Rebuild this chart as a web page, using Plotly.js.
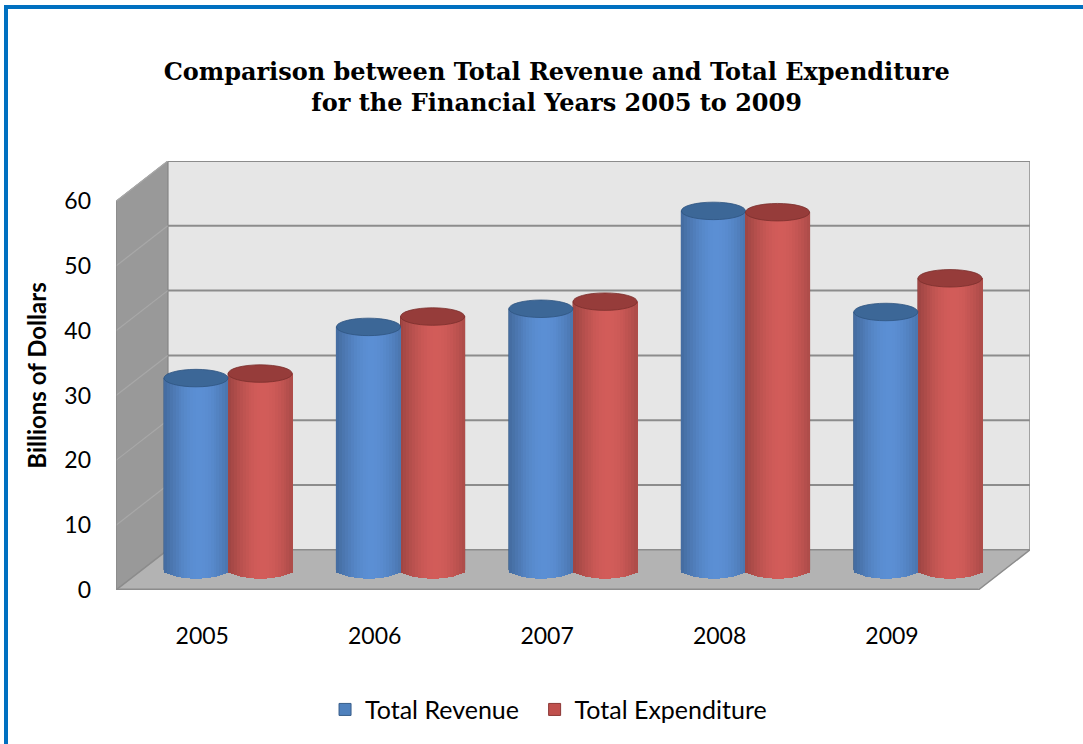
<!DOCTYPE html>
<html>
<head>
<meta charset="utf-8">
<script src="https://cdn.plot.ly/plotly-3.0.1.min.js"></script>
<style>
  html, body { margin: 0; padding: 0; background: #ffffff; overflow: hidden; }
  #chart { width: 1083px; height: 744px; }
  #frame { position: absolute; left: 4px; top: 5px; width: 1200px; height: 900px;
           border-left: 4px solid #0070c0; border-top: 4px solid #0070c0; pointer-events: none; }
</style>
</head>
<body>
<div id="chart"></div>
<div id="frame"></div>
<script>
// ---- data ----
const years = ['2005', '2006', '2007', '2008', '2009'];
const revenue = [29.6, 37.5, 40.3, 55.4, 39.8];
const expenditure = [30.3, 39.1, 41.4, 55.2, 45.0];
const yTicks = [0, 10, 20, 30, 40, 50, 60];
const seriesNames = ['Total Revenue', 'Total Expenditure'];

// ---- pseudo-3D geometry (axis units) ----
const DX = 0.30, DY = 6.2;          // depth offset of back wall
const SX = DX / 2, BASE = DY / 2;   // bars stand at mid depth
const BW = 0.372;                   // width of one cylinder
const ELL = 2.7;                    // ellipse height
const NSTRIP = 22;
const xMin = -0.5, xMax = years.length - 0.5 + DX;
const yMax = 60 + DY;

const series = [
  { name: seriesNames[0], vals: revenue, off: -BW, hi: [91, 143, 212], base: '#4f81bd', line: '#385d8a', top: '#3c6797', topLine: '#2f5480', legend: 'legend' },
  { name: seriesNames[1], vals: expenditure, off: 0, hi: [210, 92, 89], base: '#c0504d', line: '#8c3836', top: '#963c3a', topLine: '#7a2e2c', legend: 'legend2' }
];

function shade(rgb, t) {
  const f = 0.5 + 0.5 * Math.cos((t - 0.55) * Math.PI * 0.98);
  return 'rgb(' + rgb.map(c => Math.round(c * (0.55 + 0.45 * f))).join(',') + ')';
}

const xs = years.map((_, i) => i + SX);
const traces = [];
// legend / base layers
series.forEach(s => {
  traces.push({
    type: 'bar', x: xs, y: s.vals, base: BASE, offset: s.off, width: BW,
    name: s.name, legend: s.legend,
    marker: { color: s.base, line: { color: s.line, width: 1 } },
    hoverinfo: 'skip', showlegend: true
  });
});
// cylinder shading strips
series.forEach(s => {
  for (let k = 0; k < NSTRIP; k++) {
    const t0 = k / NSTRIP, tc = (k + 0.5) / NSTRIP;
    const dip = (ELL / 2) * Math.sqrt(Math.max(0, 1 - Math.pow(2 * tc - 1, 2)));
    const b = BASE - dip;
    traces.push({
      type: 'bar', x: xs, y: s.vals.map(v => v + BASE - b), base: b,
      offset: s.off + t0 * BW, width: BW / NSTRIP + 0.003,
      marker: { color: shade(s.hi, tc), line: { width: 0 } },
      hoverinfo: 'skip', showlegend: false
    });
  }
});

// ---- walls, floor, gridlines ----
const shapes = [];
const P = (pts) => 'M ' + pts.map(p => p[0] + ',' + p[1]).join(' L ') + ' Z';
// back wall
shapes.push({ type: 'rect', xref: 'x', yref: 'y', x0: xMin + DX, x1: xMax, y0: DY, y1: yMax,
  fillcolor: '#e6e6e6', line: { color: '#8c8c8c', width: 1.5 }, layer: 'below' });
// side wall
shapes.push({ type: 'path', xref: 'x', yref: 'y', layer: 'below',
  path: P([[xMin, 0], [xMin + DX, DY], [xMin + DX, yMax], [xMin, 60]]),
  fillcolor: '#999999', line: { color: '#8a8a8a', width: 1 } });
// floor
shapes.push({ type: 'path', xref: 'x', yref: 'y', layer: 'below',
  path: P([[xMin, 0], [xMin + DX, DY], [xMax, DY], [xMax - DX, 0]]),
  fillcolor: '#b3b3b3', line: { color: '#8c8c8c', width: 1.5 } });
// gridlines
yTicks.forEach(v => {
  if (v > 0) {
    shapes.push({ type: 'line', xref: 'x', yref: 'y', layer: 'below',
      x0: xMin + DX, x1: xMax, y0: v + DY, y1: v + DY, line: { color: '#8c8c8c', width: 2 } });
    shapes.push({ type: 'line', xref: 'x', yref: 'y', layer: 'below',
      x0: xMin, x1: xMin + DX, y0: v, y1: v + DY, line: { color: '#a8a8a8', width: 1.2 } });
  }
});
// front floor edge and axis edge
shapes.push({ type: 'line', xref: 'x', yref: 'y', layer: 'below',
  x0: xMin, x1: xMax - DX, y0: 0, y1: 0, line: { color: '#8c8c8c', width: 3 } });
shapes.push({ type: 'line', xref: 'x', yref: 'y', layer: 'below',
  x0: xMin, x1: xMin, y0: 0, y1: 60, line: { color: '#8c8c8c', width: 1.5 } });
// cylinder tops
series.forEach(s => {
  s.vals.forEach((v, i) => {
    shapes.push({ type: 'circle', xref: 'x', yref: 'y', layer: 'above',
      x0: xs[i] + s.off, x1: xs[i] + s.off + BW,
      y0: v + BASE - ELL / 2, y1: v + BASE + ELL / 2,
      fillcolor: s.top, line: { color: s.topLine, width: 0.8 } });
  });
});

const legendStyle = (x) => ({
  orientation: 'h', x: x, xanchor: 'left', y: -0.276, yanchor: 'middle',
  font: { family: 'Lato', size: 25, color: '#000000' },
  itemwidth: 30, bgcolor: 'rgba(0,0,0,0)'
});

const layout = {
  width: 1083, height: 744,
  margin: { l: 116, r: 53, t: 161, b: 153 },
  paper_bgcolor: '#ffffff', plot_bgcolor: 'rgba(0,0,0,0)',
  barmode: 'overlay', bargap: 0,
  title: {
    text: 'Comparison between Total Revenue and Total Expenditure<br>for the Financial Years 2005 to 2009',
    font: { family: 'DejaVu Serif', size: 24, color: '#000000', weight: 'bold' },
    xref: 'container', x: 0.514, xanchor: 'center',
    yref: 'container', y: 0.893, yanchor: 'middle'
  },
  xaxis: {
    range: [xMin, xMax], tickvals: years.map((_, i) => i), ticktext: years,
    showgrid: false, zeroline: false, showline: false, ticks: '',
    ticklabelstandoff: 30,
    tickfont: { family: 'Lato', size: 23, color: '#000000' }, fixedrange: true
  },
  yaxis: {
    range: [0, yMax], tickvals: yTicks, ticktext: yTicks.map(String),
    showgrid: false, zeroline: false, showline: false, ticks: '',
    ticklabelstandoff: 24,
    tickfont: { family: 'Lato', size: 23, color: '#000000' },
    title: { text: 'Billions of Dollars', standoff: 10,
             font: { family: 'Lato', size: 24, color: '#000000', weight: 'bold' } },
    fixedrange: true
  },
  legend: legendStyle(0.2287),
  legend2: legendStyle(0.458),
  shapes: shapes,
  showlegend: true
};

Plotly.newPlot('chart', traces, layout, { displayModeBar: false, staticPlot: true });
</script>
</body>
</html>
